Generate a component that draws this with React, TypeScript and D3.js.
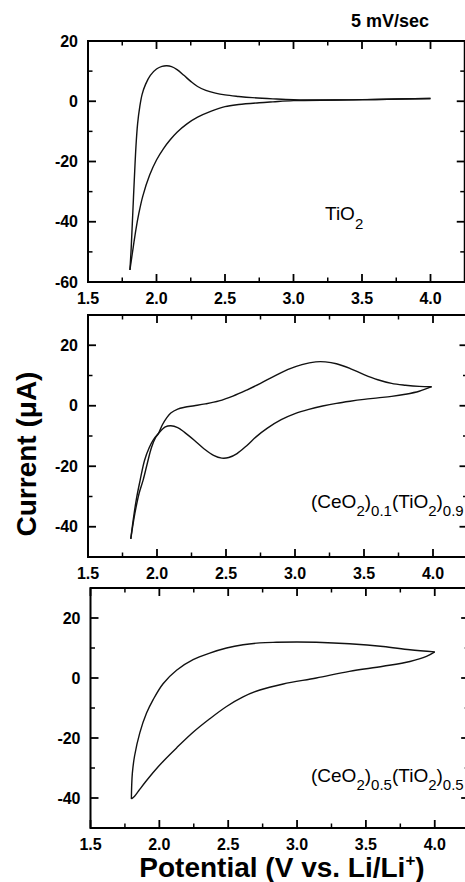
import React from "react";
import * as d3 from "d3";

type Pt = [number, number];

// x axis (potential, V)
const xMajorTicks = [1.5, 2.0, 2.5, 3.0, 3.5, 4.0];
const xMinorTicks = [1.75, 2.25, 2.75, 3.25, 3.75];
const xTickLabels = ["1.5", "2.0", "2.5", "3.0", "3.5", "4.0"];

// y axis (current, uA)
const yTop = { domain: [-60, 20], major: [-60, -40, -20, 0, 20], minor: [-50, -30, -10, 10] };
const yLower = { domain: [-50, 30], major: [-40, -20, 0, 20], minor: [-30, -10, 10] };

// TiO2
const tio2Anodic: Pt[] = [
  [1.806, -56], [1.815, -49], [1.826, -38], [1.838, -26], [1.85, -15], [1.862, -7.5],
  [1.878, -1.8], [1.895, 2.3], [1.92, 5.6], [1.955, 8.6], [2.0, 10.7], [2.04, 11.6],
  [2.075, 11.8], [2.11, 11.5], [2.15, 10.5], [2.2, 8.6], [2.25, 6.6], [2.3, 4.9],
  [2.36, 3.6], [2.43, 2.7], [2.5, 2.1], [2.6, 1.6], [2.7, 1.2], [2.85, 0.8],
  [3.0, 0.5], [3.3, 0.4], [3.6, 0.6], [4.0, 0.9],
];
const tio2Cathodic: Pt[] = [
  [4.0, 0.9], [3.6, 0.6], [3.3, 0.4], [3.0, 0.2], [2.85, -0.2], [2.75, -0.5],
  [2.6, -1.1], [2.5, -1.8], [2.4, -3.3], [2.3, -5.3], [2.22, -7.6], [2.15, -10.3],
  [2.1, -12.8], [2.05, -15.8], [2.0, -19.5], [1.95, -24.5], [1.9, -31.5], [1.87, -37.5],
  [1.85, -42.5], [1.83, -48.5], [1.806, -56],
];

// (CeO2)0.1(TiO2)0.9
const ce01Anodic: Pt[] = [
  [1.81, -44], [1.84, -35.5], [1.87, -29], [1.9, -24.5], [1.93, -19], [1.96, -13.8],
  [1.99, -10.5], [2.01, -9.2], [2.04, -6.2], [2.07, -4], [2.1, -2.4], [2.15, -1.1],
  [2.2, -0.5], [2.27, 0], [2.35, 0.6], [2.45, 1.6], [2.55, 3.2], [2.65, 5.2],
  [2.75, 7.4], [2.85, 9.8], [2.95, 12.0], [3.05, 13.6], [3.15, 14.5], [3.22, 14.5],
  [3.3, 13.9], [3.4, 12.3], [3.5, 10.3], [3.6, 8.6], [3.7, 7.4], [3.8, 6.8],
  [3.9, 6.4], [3.99, 6.3],
];
const ce01Cathodic: Pt[] = [
  [3.99, 6.3], [3.9, 4.8], [3.8, 3.8], [3.7, 3.1], [3.6, 2.6], [3.5, 2.1], [3.4, 1.5],
  [3.3, 0.8], [3.2, -0.1], [3.1, -1.2], [3.0, -2.6], [2.9, -4.6], [2.8, -7.4],
  [2.72, -10.2], [2.65, -13.2], [2.58, -15.8], [2.52, -17.1], [2.47, -17.3],
  [2.41, -16.4], [2.34, -14.2], [2.27, -11.4], [2.2, -8.8], [2.15, -7.2], [2.1, -6.6],
  [2.06, -7.0], [2.01, -9.2], [1.97, -11.5], [1.944, -13.8], [1.91, -18],
  [1.877, -24.8], [1.85, -31], [1.83, -37], [1.81, -44],
];

// (CeO2)0.5(TiO2)0.5
const ce05Anodic: Pt[] = [
  [1.797, -40.3], [1.799, -36], [1.804, -31.7], [1.82, -26], [1.858, -18.3],
  [1.907, -11.7], [1.955, -7.2], [2.027, -1.9], [2.125, 2.6], [2.245, 6.1],
  [2.366, 8.3], [2.488, 10], [2.608, 11.1], [2.729, 11.7], [2.85, 11.9], [3.0, 12],
  [3.14, 11.9], [3.38, 11.4], [3.625, 10.5], [3.82, 9.4], [4.0, 8.7],
];
const ce05Cathodic: Pt[] = [
  [4.0, 8.7], [3.94, 7.2], [3.82, 5.5], [3.625, 3.9], [3.38, 2.2], [3.14, 0],
  [2.9, -2.0], [2.73, -4.0], [2.608, -6.3], [2.488, -9.5], [2.366, -13.6],
  [2.245, -18.1], [2.125, -23.3], [2.027, -27.8], [1.955, -31.5], [1.9, -34.6],
  [1.85, -37.6], [1.82, -39.4], [1.797, -40.3],
];

const FONT = "'Liberation Sans', Arial, sans-serif";

type PanelProps = {
  top: number;
  bottom: number;
  left: number;
  kx: number;
  yAxis: { domain: number[]; major: number[]; minor: number[] };
  branches: Pt[][];
  label: React.ReactNode;
};

const Panel = ({ top, bottom, left, kx, yAxis, branches, label }: PanelProps) => {
  const right = left + 2.75 * kx;
  const x = d3.scaleLinear().domain([1.5, 4.25]).range([left, right]);
  const y = d3.scaleLinear().domain(yAxis.domain).range([bottom, top]);
  const line = d3
    .line<Pt>()
    .x((d) => x(d[0]))
    .y((d) => y(d[1]))
    .curve(d3.curveCatmullRom.alpha(0.5));

  const major = 8;
  const minor = 4.5;

  return (
    <g>
      {branches.map((b, i) => (
        <path key={i} d={line(b) || ""} fill="none" stroke="#111" strokeWidth={1.4} strokeLinejoin="round" />
      ))}
      <rect x={left} y={top} width={right - left} height={bottom - top} fill="none" stroke="#000" strokeWidth={2} />
      {/* x ticks, top and bottom, inward */}
      {xMajorTicks.map((t) => (
        <g key={"xM" + t}>
          <line x1={x(t)} x2={x(t)} y1={bottom} y2={bottom - major} stroke="#000" strokeWidth={1.8} />
          <line x1={x(t)} x2={x(t)} y1={top} y2={top + major} stroke="#000" strokeWidth={1.8} />
        </g>
      ))}
      {xMinorTicks.map((t) => (
        <g key={"xm" + t}>
          <line x1={x(t)} x2={x(t)} y1={bottom} y2={bottom - minor} stroke="#000" strokeWidth={1.5} />
          <line x1={x(t)} x2={x(t)} y1={top} y2={top + minor} stroke="#000" strokeWidth={1.5} />
        </g>
      ))}
      {/* y ticks, left and right, inward */}
      {yAxis.major.map((t) => (
        <g key={"yM" + t}>
          <line x1={left} x2={left + major} y1={y(t)} y2={y(t)} stroke="#000" strokeWidth={1.8} />
          <line x1={right} x2={right - major} y1={y(t)} y2={y(t)} stroke="#000" strokeWidth={1.8} />
        </g>
      ))}
      {yAxis.minor.map((t) => (
        <g key={"ym" + t}>
          <line x1={left} x2={left + minor} y1={y(t)} y2={y(t)} stroke="#000" strokeWidth={1.5} />
          <line x1={right} x2={right - minor} y1={y(t)} y2={y(t)} stroke="#000" strokeWidth={1.5} />
        </g>
      ))}
      {/* tick labels */}
      {xMajorTicks.map((t, i) => (
        <text key={"xl" + t} x={x(t)} y={bottom + 22} textAnchor="middle" fontSize={16} fontWeight="bold" fontFamily={FONT}>
          {xTickLabels[i]}
        </text>
      ))}
      {yAxis.major.map((t) => (
        <text key={"yl" + t} x={left - 10} y={y(t) + 5.5} textAnchor="end" fontSize={16} fontWeight="bold" fontFamily={FONT}>
          {t}
        </text>
      ))}
      {label}
    </g>
  );
};

const Formula = ({ x, y, ce, ti }: { x: number; y: number; ce: string; ti: string }) => (
  <text x={x} y={y} fontSize={19} fontFamily={FONT} fill="#000">
    <tspan>(CeO</tspan>
    <tspan fontSize={15} dy={8}>2</tspan>
    <tspan dy={-8}>)</tspan>
    <tspan fontSize={15} dy={8}>{ce}</tspan>
    <tspan dy={-8}>(TiO</tspan>
    <tspan fontSize={15} dy={8}>2</tspan>
    <tspan dy={-8}>)</tspan>
    <tspan fontSize={15} dy={8}>{ti}</tspan>
  </text>
);

export default function App() {
  return (
    <svg
      width={465}
      height={882}
      style={{ position: "absolute", left: 0, top: 0, background: "#fff", display: "block" }}
    >
      <rect width={465} height={882} fill="#fff" />
      <text x={390} y={27} textAnchor="middle" fontSize={18} fontWeight="bold" fontFamily={FONT}>
        5 mV/sec
      </text>
      <Panel
        top={41}
        bottom={282}
        left={88}
        kx={137}
        yAxis={yTop}
        branches={[tio2Anodic, tio2Cathodic]}
        label={
          <text x={325} y={220} fontSize={19} fontFamily={FONT}>
            <tspan>TiO</tspan>
            <tspan fontSize={15} dy={9}>2</tspan>
          </text>
        }
      />
      <Panel
        top={315}
        bottom={557}
        left={88}
        kx={138}
        yAxis={yLower}
        branches={[ce01Anodic, ce01Cathodic]}
        label={<Formula x={311} y={508} ce="0.1" ti="0.9" />}
      />
      <Panel
        top={588}
        bottom={828}
        left={90.5}
        kx={137.7}
        yAxis={yLower}
        branches={[ce05Anodic, ce05Cathodic]}
        label={<Formula x={311} y={782} ce="0.5" ti="0.5" />}
      />
      <text
        transform="translate(36,454) rotate(-90)"
        textAnchor="middle"
        fontSize={28}
        fontWeight="bold"
        fontFamily={FONT}
      >
        Current (μA)
      </text>
      <text x={282} y={877} textAnchor="middle" fontSize={28} fontWeight="bold" fontFamily={FONT}>
        Potential (V vs. Li/Li<tspan fontSize={17} dy={-11}>+</tspan><tspan dy={11}>)</tspan>
      </text>
    </svg>
  );
}
